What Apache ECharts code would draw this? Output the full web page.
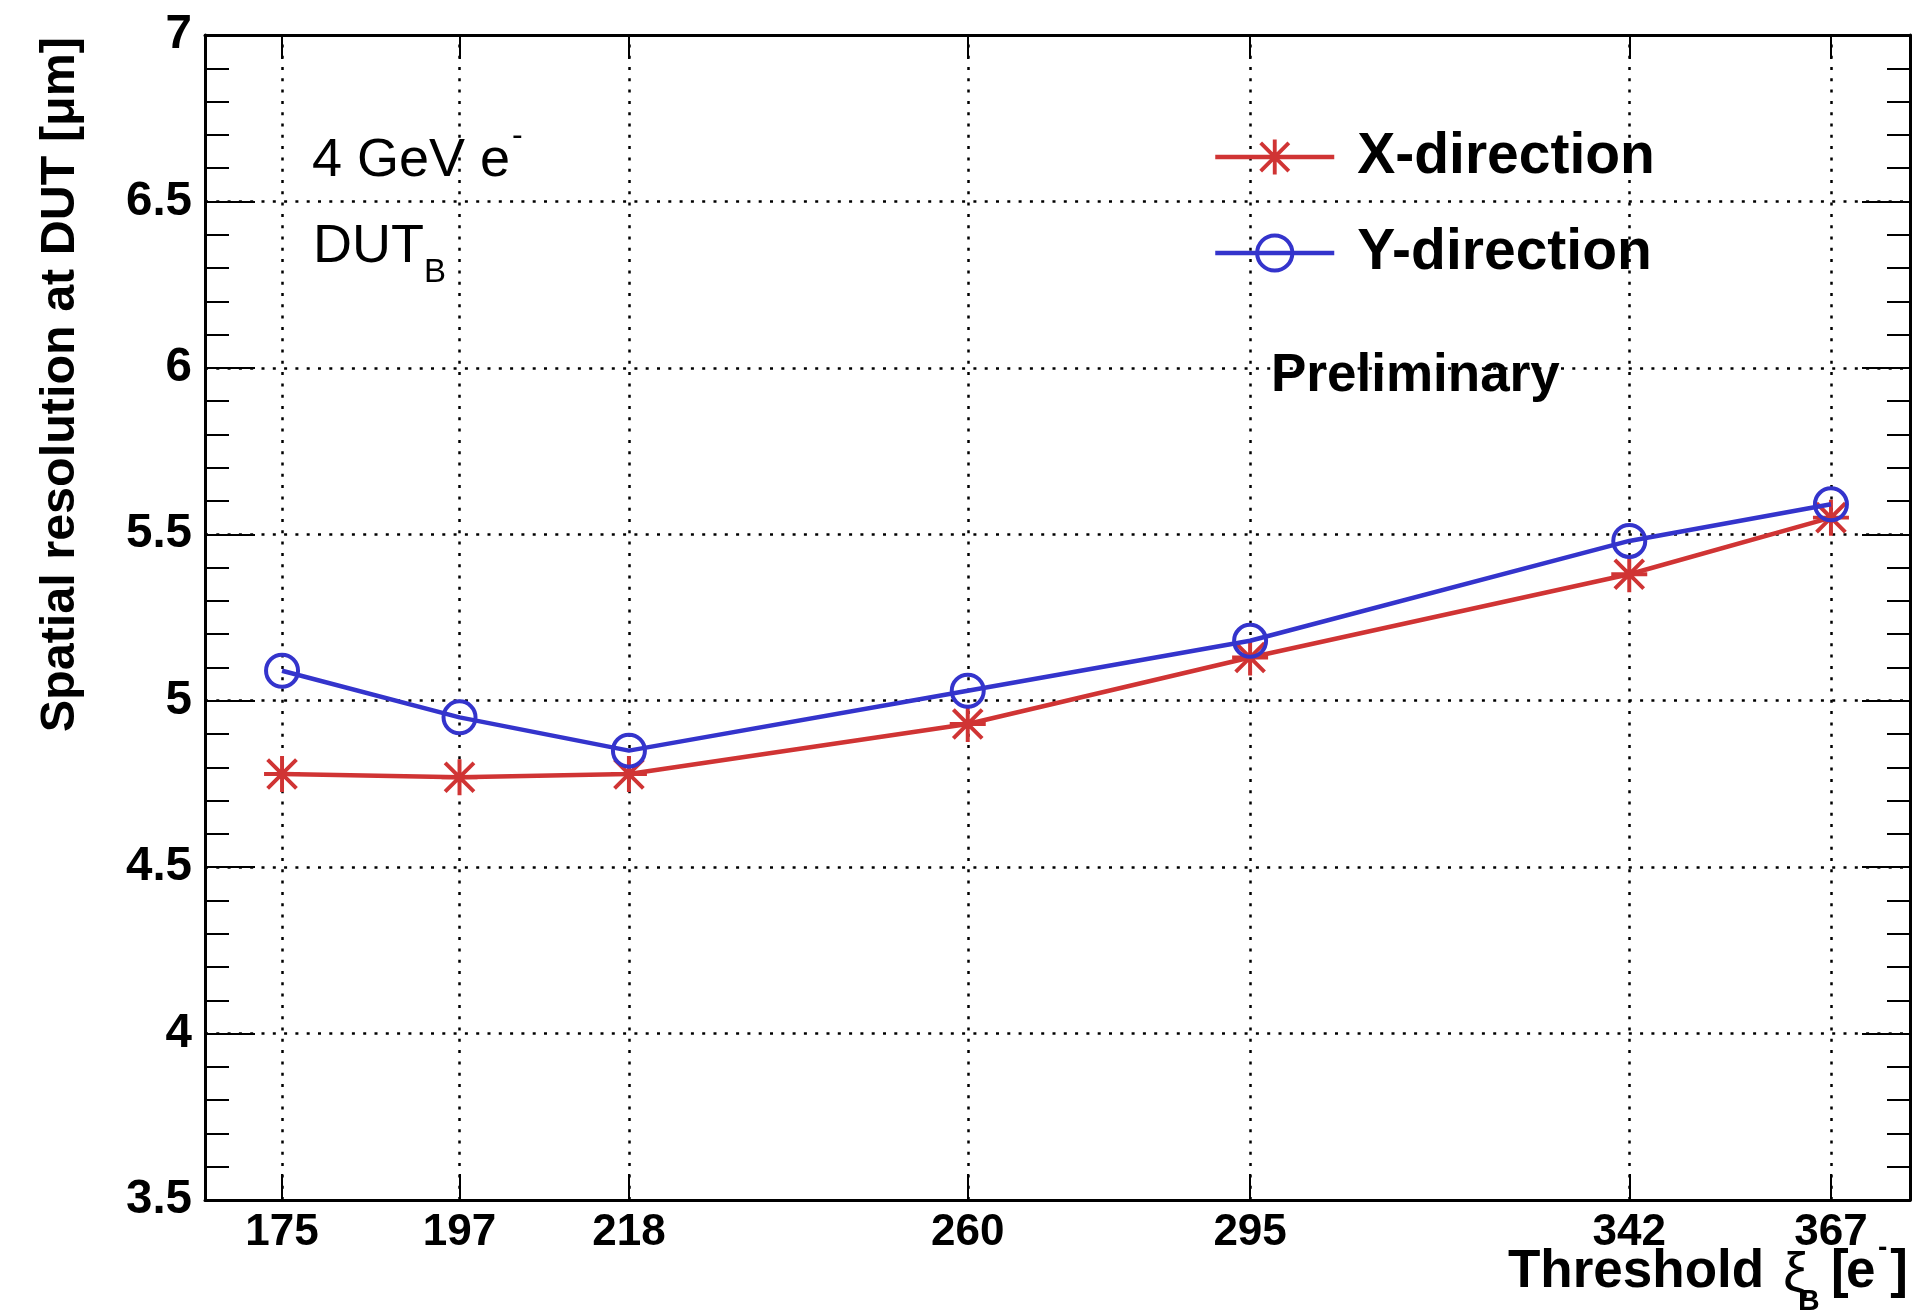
<!DOCTYPE html>
<html><head><meta charset="utf-8">
<script src="https://cdn.jsdelivr.net/npm/echarts@6/dist/echarts.min.js"></script>
<style>html,body{margin:0;padding:0;background:#fff}#c{width:1931px;height:1312px}</style>
</head><body><div id="c"></div>
<script>
// ---- data ----
const thresholds = [175, 197, 218, 260, 295, 342, 367];
const xDirection = [4.78, 4.77, 4.78, 4.93, 5.13, 5.38, 5.55];
const yDirection = [5.09, 4.95, 4.85, 5.03, 5.18, 5.48, 5.59];
const seriesNames = ['X-direction', 'Y-direction'];
const yRange = [3.5, 7];
const xRange = [165.45, 376.8];

// ---- style ----
const FONT = 'Liberation Sans';
const RED = '#d03434';
const BLUE = '#3434cc';
const DOT = [3, 8.3];
const LW = 4.5;
const STAR = 'path://M-1.1,-10 L1.1,-10 L1.1,10 L-1.1,10 Z M-10,-1.1 L10,-1.1 L10,1.1 L-10,1.1 Z ' +
  'M-8.78,-7.22 L-7.22,-8.78 L8.78,7.22 L7.22,8.78 Z M-8.78,7.22 L7.22,-8.78 L8.78,-7.22 L-7.22,8.78 Z';

const chart = echarts.init(document.getElementById('c'), null, {renderer: 'canvas'});

function pair(xs, ys) { return xs.map((x, i) => [x, ys[i]]); }

const axisLineStyle = {color: '#000', width: 3};
const tickStyle = {color: '#000', width: 2};
function txt(x, y, text, font, align) {
  return {type: 'text', x: x, y: y, silent: true,
    style: {text: text, font: font, fill: '#000', align: align || 'left', verticalAlign: 'middle'}};
}

const option = {
  backgroundColor: '#fff',
  animation: false,
  grid: {left: 205, right: 21, top: 35, bottom: 112, containLabel: false},
  legend: {
    left: 1208, top: 123.5, orient: 'vertical',
    itemWidth: 119, itemHeight: 44, itemGap: 39,
    selectedMode: false,
    textStyle: {fontSize: 57, fontWeight: 'bold', color: '#000', fontFamily: FONT, padding: [0, 0, 0, 18]},
    data: [
      {name: seriesNames[0], lineStyle: {color: RED, width: LW}, itemStyle: {color: RED, borderWidth: 0}},
      {name: seriesNames[1], lineStyle: {color: BLUE, width: LW}, itemStyle: {color: 'rgba(0,0,0,0)', borderColor: BLUE, borderWidth: 4}}
    ]
  },
  xAxis: [{
    type: 'value', position: 'bottom', min: xRange[0], max: xRange[1],
    axisLine: {show: true, onZero: false, lineStyle: axisLineStyle},
    axisTick: {show: true, inside: true, length: 26, customValues: thresholds, lineStyle: tickStyle},
    axisLabel: {show: true, customValues: thresholds, fontSize: 44, fontWeight: 'bold', color: '#000', fontFamily: FONT, margin: 11},
    splitLine: {show: false}
  }, {
    type: 'value', position: 'top', min: xRange[0], max: xRange[1],
    axisLine: {show: true, onZero: false, lineStyle: axisLineStyle},
    axisTick: {show: true, inside: true, length: 24, customValues: thresholds, lineStyle: tickStyle},
    axisLabel: {show: false, customValues: thresholds},
    splitLine: {show: false}
  }],
  yAxis: [{
    type: 'value', position: 'left', min: yRange[0], max: yRange[1], interval: 0.5,
    axisLine: {show: true, onZero: false, lineStyle: axisLineStyle},
    axisTick: {show: true, inside: true, length: 50, lineStyle: tickStyle},
    minorTick: {show: true, splitNumber: 5, length: 24, lineStyle: tickStyle},
    axisLabel: {show: true, fontSize: 47.5, fontWeight: 'bold', color: '#000', fontFamily: FONT, margin: 13,
      showMinLabel: true, showMaxLabel: true},
    splitLine: {show: true, lineStyle: {color: '#000', width: 2.5, type: DOT}},
    minorSplitLine: {show: false}
  }, {
    type: 'value', position: 'right', min: yRange[0], max: yRange[1], interval: 0.5,
    axisLine: {show: true, onZero: false, lineStyle: axisLineStyle},
    axisTick: {show: true, inside: true, length: 48, lineStyle: tickStyle},
    minorTick: {show: true, splitNumber: 5, length: 23, lineStyle: tickStyle},
    axisLabel: {show: false},
    splitLine: {show: false}
  }],
  series: [{
    name: 'grid-x', type: 'line', data: [], z: 1, silent: true,
    markLine: {
      silent: true, z: 1, symbol: ['none', 'none'], label: {show: false},
      lineStyle: {color: '#000', width: 2.5, type: DOT},
      emphasis: {disabled: true},
      data: thresholds.map(v => ({xAxis: v}))
    }
  }, {
    name: seriesNames[0], type: 'line', xAxisIndex: 0, yAxisIndex: 0,
    data: pair(thresholds, xDirection),
    symbol: STAR, symbolSize: 36, z: 3,
    itemStyle: {color: RED},
    lineStyle: {color: RED, width: LW}
  }, {
    name: seriesNames[1], type: 'line', xAxisIndex: 0, yAxisIndex: 0,
    data: pair(thresholds, yDirection),
    symbol: 'circle', symbolSize: 32, z: 4,
    itemStyle: {color: 'rgba(0,0,0,0)', borderColor: BLUE, borderWidth: 4},
    lineStyle: {color: BLUE, width: LW}
  }],
  graphic: [
    txt(312, 161.5, '4 GeV e', '54px "' + FONT + '"'),
    txt(512, 136, '-', '32px "' + FONT + '"'),
    txt(313, 247, 'DUT', '54px "' + FONT + '"'),
    txt(424, 273, 'B', '33px "' + FONT + '"'),
    txt(1271, 376.5, 'Preliminary', 'bold 53px "' + FONT + '"'),
    {type: 'text', x: 61, y: 37, rotation: Math.PI / 2, silent: true,
      style: {text: 'Spatial resolution at DUT [\u03bcm]', font: 'bold 48.5px "' + FONT + '"', fill: '#000', align: 'right', verticalAlign: 'middle'}},
    txt(1508, 1272, 'Threshold', 'bold 53px "' + FONT + '"'),
    txt(1783, 1276, '\u03be', '56px "' + FONT + '"'),
    txt(1798, 1302, 'B', 'bold 30px "' + FONT + '"'),
    txt(1831, 1272, '[', 'bold 53px "' + FONT + '"'),
    txt(1846, 1272, 'e', 'bold 53px "' + FONT + '"'),
    txt(1878, 1248, '-', 'bold 28px "' + FONT + '"'),
    txt(1908, 1272, ']', 'bold 53px "' + FONT + '"', 'right')
  ]
};
chart.setOption(option);
</script>
</body></html>
